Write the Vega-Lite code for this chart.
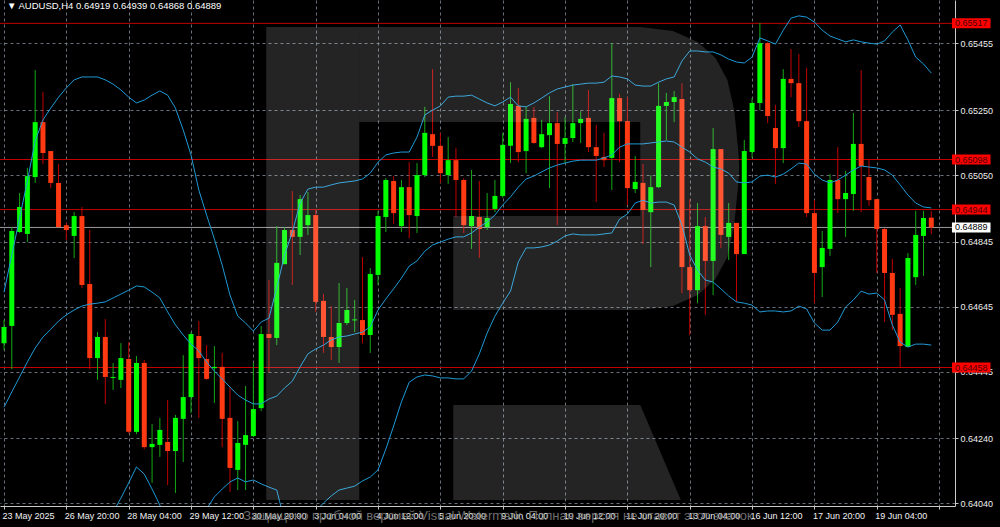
{
"$schema": "https://vega.github.io/schema/vega-lite/v6.json",
"width": 955,
"height": 506,
"autosize": {"type": "none"},
"padding": {"left": 0, "top": 0, "right": 45, "bottom": 21},
"background": "#000000",
"config": {"view": {"stroke": null}, "font": "Liberation Sans"},
"datasets": {
"bars": [
{"i":0,"o":0.64533,"h":0.64604,"l":0.64512,"c":0.64583,"u":0.64690,"m":0.64336,"b":0.63983},
{"i":1,"o":0.64586,"h":0.64890,"l":0.64453,"c":0.64878,"u":0.64804,"m":0.64383,"b":0.63961},
{"i":2,"o":0.64875,"h":0.64995,"l":0.64872,"c":0.64952,"u":0.64918,"m":0.64429,"b":0.63940},
{"i":3,"o":0.64869,"h":0.65072,"l":0.64844,"c":0.65047,"u":0.65032,"m":0.64475,"b":0.63918},
{"i":4,"o":0.65044,"h":0.65373,"l":0.65026,"c":0.65213,"u":0.65155,"m":0.64518,"b":0.63881},
{"i":5,"o":0.65213,"h":0.65306,"l":0.65084,"c":0.65118,"u":0.65220,"m":0.64552,"b":0.63884},
{"i":6,"o":0.65124,"h":0.65124,"l":0.65010,"c":0.65026,"u":0.65256,"m":0.64576,"b":0.63896},
{"i":7,"o":0.65026,"h":0.65084,"l":0.64890,"c":0.64890,"u":0.65290,"m":0.64601,"b":0.63912},
{"i":8,"o":0.64896,"h":0.64903,"l":0.64850,"c":0.64881,"u":0.65318,"m":0.64620,"b":0.63921},
{"i":9,"o":0.64863,"h":0.64936,"l":0.64795,"c":0.64924,"u":0.65343,"m":0.64635,"b":0.63927},
{"i":10,"o":0.64924,"h":0.64952,"l":0.64703,"c":0.64712,"u":0.65352,"m":0.64647,"b":0.63943},
{"i":11,"o":0.64715,"h":0.64881,"l":0.64453,"c":0.64487,"u":0.65352,"m":0.64653,"b":0.63955},
{"i":12,"o":0.64487,"h":0.64567,"l":0.64420,"c":0.64552,"u":0.65352,"m":0.64656,"b":0.63961},
{"i":13,"o":0.64552,"h":0.64607,"l":0.64346,"c":0.64429,"u":0.65343,"m":0.64660,"b":0.63976},
{"i":14,"o":0.64426,"h":0.64472,"l":0.64389,"c":0.64429,"u":0.65330,"m":0.64672,"b":0.64013},
{"i":15,"o":0.64420,"h":0.64533,"l":0.64395,"c":0.64487,"u":0.65312,"m":0.64684,"b":0.64056},
{"i":16,"o":0.64484,"h":0.64536,"l":0.64256,"c":0.64260,"u":0.65290,"m":0.64696,"b":0.64103},
{"i":17,"o":0.64260,"h":0.64493,"l":0.64253,"c":0.64472,"u":0.65272,"m":0.64709,"b":0.64152},
{"i":18,"o":0.64472,"h":0.64481,"l":0.64207,"c":0.64213,"u":0.65281,"m":0.64706,"b":0.64130},
{"i":19,"o":0.64213,"h":0.64284,"l":0.64103,"c":0.64223,"u":0.65296,"m":0.64690,"b":0.64084},
{"i":20,"o":0.64220,"h":0.64303,"l":0.64183,"c":0.64266,"u":0.65309,"m":0.64672,"b":0.64035},
{"i":21,"o":0.64229,"h":0.64358,"l":0.64096,"c":0.64201,"u":0.65296,"m":0.64629,"b":0.63961},
{"i":22,"o":0.64201,"h":0.64312,"l":0.64072,"c":0.64303,"u":0.65256,"m":0.64589,"b":0.63921},
{"i":23,"o":0.64300,"h":0.64496,"l":0.64167,"c":0.64367,"u":0.65189,"m":0.64558,"b":0.63927},
{"i":24,"o":0.64367,"h":0.64567,"l":0.64318,"c":0.64561,"u":0.65112,"m":0.64530,"b":0.63949},
{"i":25,"o":0.64555,"h":0.64601,"l":0.64303,"c":0.64487,"u":0.65004,"m":0.64509,"b":0.64013},
{"i":26,"o":0.64484,"h":0.64527,"l":0.64420,"c":0.64423,"u":0.64927,"m":0.64475,"b":0.64023},
{"i":27,"o":0.64456,"h":0.64524,"l":0.64349,"c":0.64460,"u":0.64853,"m":0.64447,"b":0.64060},
{"i":28,"o":0.64460,"h":0.64503,"l":0.64213,"c":0.64300,"u":0.64773,"m":0.64423,"b":0.64084},
{"i":29,"o":0.64303,"h":0.64398,"l":0.64075,"c":0.64149,"u":0.64681,"m":0.64398,"b":0.64106},
{"i":30,"o":0.64143,"h":0.64293,"l":0.64081,"c":0.64226,"u":0.64616,"m":0.64373,"b":0.64118},
{"i":31,"o":0.64220,"h":0.64401,"l":0.64081,"c":0.64250,"u":0.64595,"m":0.64358,"b":0.64106},
{"i":32,"o":0.64247,"h":0.64472,"l":0.64244,"c":0.64330,"u":0.64570,"m":0.64346,"b":0.64112},
{"i":33,"o":0.64333,"h":0.64586,"l":0.64324,"c":0.64561,"u":0.64598,"m":0.64346,"b":0.64100},
{"i":34,"o":0.64561,"h":0.64727,"l":0.64444,"c":0.64549,"u":0.64610,"m":0.64361,"b":0.64090},
{"i":35,"o":0.64549,"h":0.64893,"l":0.64527,"c":0.64780,"u":0.64703,"m":0.64370,"b":0.64081},
{"i":36,"o":0.64776,"h":0.64890,"l":0.64776,"c":0.64881,"u":0.64804,"m":0.64395,"b":0.63986},
{"i":37,"o":0.64881,"h":0.65001,"l":0.64712,"c":0.64860,"u":0.64875,"m":0.64416,"b":0.63958},
{"i":38,"o":0.64860,"h":0.64989,"l":0.64804,"c":0.64976,"u":0.64964,"m":0.64460,"b":0.63955},
{"i":39,"o":0.64896,"h":0.64998,"l":0.64866,"c":0.64927,"u":0.65007,"m":0.64500,"b":0.63992},
{"i":40,"o":0.64927,"h":0.64946,"l":0.64629,"c":0.64660,"u":0.65013,"m":0.64515,"b":0.64016},
{"i":41,"o":0.64663,"h":0.64684,"l":0.64503,"c":0.64552,"u":0.65013,"m":0.64527,"b":0.64041},
{"i":42,"o":0.64552,"h":0.64647,"l":0.64481,"c":0.64521,"u":0.65020,"m":0.64543,"b":0.64063},
{"i":43,"o":0.64521,"h":0.64718,"l":0.64472,"c":0.64595,"u":0.65026,"m":0.64552,"b":0.64081},
{"i":44,"o":0.64595,"h":0.64703,"l":0.64589,"c":0.64635,"u":0.65029,"m":0.64555,"b":0.64087},
{"i":45,"o":0.64603,"h":0.64666,"l":0.64567,"c":0.64606,"u":0.65032,"m":0.64561,"b":0.64093},
{"i":46,"o":0.64604,"h":0.64798,"l":0.64533,"c":0.64558,"u":0.65038,"m":0.64567,"b":0.64109},
{"i":47,"o":0.64558,"h":0.64764,"l":0.64503,"c":0.64746,"u":0.65056,"m":0.64583,"b":0.64121},
{"i":48,"o":0.64743,"h":0.64940,"l":0.64712,"c":0.64924,"u":0.65090,"m":0.64635,"b":0.64143},
{"i":49,"o":0.64921,"h":0.65041,"l":0.64875,"c":0.65035,"u":0.65112,"m":0.64669,"b":0.64207},
{"i":50,"o":0.65032,"h":0.65047,"l":0.64900,"c":0.64933,"u":0.65118,"m":0.64700,"b":0.64278},
{"i":51,"o":0.64893,"h":0.65035,"l":0.64875,"c":0.65013,"u":0.65121,"m":0.64733,"b":0.64352},
{"i":52,"o":0.65013,"h":0.65090,"l":0.64856,"c":0.64927,"u":0.65121,"m":0.64770,"b":0.64413},
{"i":53,"o":0.64924,"h":0.65087,"l":0.64872,"c":0.65050,"u":0.65167,"m":0.64786,"b":0.64429},
{"i":54,"o":0.65050,"h":0.65260,"l":0.65044,"c":0.65180,"u":0.65235,"m":0.64816,"b":0.64435},
{"i":55,"o":0.65176,"h":0.65376,"l":0.65106,"c":0.65140,"u":0.65250,"m":0.64835,"b":0.64432},
{"i":56,"o":0.65140,"h":0.65180,"l":0.65026,"c":0.65056,"u":0.65263,"m":0.64844,"b":0.64426},
{"i":57,"o":0.65050,"h":0.65167,"l":0.65023,"c":0.65096,"u":0.65290,"m":0.64853,"b":0.64426},
{"i":58,"o":0.65096,"h":0.65133,"l":0.64921,"c":0.65035,"u":0.65293,"m":0.64860,"b":0.64423},
{"i":59,"o":0.65035,"h":0.65041,"l":0.64872,"c":0.64896,"u":0.65293,"m":0.64860,"b":0.64423},
{"i":60,"o":0.64893,"h":0.65066,"l":0.64823,"c":0.64924,"u":0.65296,"m":0.64872,"b":0.64447},
{"i":61,"o":0.64921,"h":0.65032,"l":0.64795,"c":0.64884,"u":0.65284,"m":0.64890,"b":0.64500},
{"i":62,"o":0.64890,"h":0.64995,"l":0.64881,"c":0.64918,"u":0.65272,"m":0.64906,"b":0.64564},
{"i":63,"o":0.64946,"h":0.65035,"l":0.64936,"c":0.64986,"u":0.65263,"m":0.64927,"b":0.64616},
{"i":64,"o":0.64986,"h":0.65180,"l":0.64980,"c":0.65143,"u":0.65275,"m":0.64958,"b":0.64656},
{"i":65,"o":0.65140,"h":0.65336,"l":0.65087,"c":0.65269,"u":0.65290,"m":0.64983,"b":0.64693},
{"i":66,"o":0.65263,"h":0.65318,"l":0.65090,"c":0.65121,"u":0.65263,"m":0.65013,"b":0.64783},
{"i":67,"o":0.65124,"h":0.65260,"l":0.65056,"c":0.65223,"u":0.65260,"m":0.65038,"b":0.64826},
{"i":68,"o":0.65226,"h":0.65260,"l":0.65146,"c":0.65149,"u":0.65272,"m":0.65047,"b":0.64826},
{"i":69,"o":0.65136,"h":0.65220,"l":0.65133,"c":0.65176,"u":0.65287,"m":0.65060,"b":0.64829},
{"i":70,"o":0.65173,"h":0.65293,"l":0.65010,"c":0.65210,"u":0.65303,"m":0.65072,"b":0.64835},
{"i":71,"o":0.65210,"h":0.65244,"l":0.64896,"c":0.65146,"u":0.65315,"m":0.65081,"b":0.64847},
{"i":72,"o":0.65146,"h":0.65229,"l":0.65087,"c":0.65164,"u":0.65321,"m":0.65087,"b":0.64863},
{"i":73,"o":0.65164,"h":0.65330,"l":0.65152,"c":0.65210,"u":0.65327,"m":0.65093,"b":0.64869},
{"i":74,"o":0.65210,"h":0.65247,"l":0.65149,"c":0.65223,"u":0.65330,"m":0.65096,"b":0.64866},
{"i":75,"o":0.65226,"h":0.65312,"l":0.65121,"c":0.65136,"u":0.65333,"m":0.65096,"b":0.64866},
{"i":76,"o":0.65136,"h":0.65204,"l":0.64967,"c":0.65109,"u":0.65333,"m":0.65096,"b":0.64866},
{"i":77,"o":0.65106,"h":0.65180,"l":0.65075,"c":0.65096,"u":0.65336,"m":0.65103,"b":0.64869},
{"i":78,"o":0.65103,"h":0.65456,"l":0.65004,"c":0.65287,"u":0.65355,"m":0.65112,"b":0.64872},
{"i":79,"o":0.65287,"h":0.65300,"l":0.65090,"c":0.65216,"u":0.65352,"m":0.65136,"b":0.64915},
{"i":80,"o":0.65216,"h":0.65290,"l":0.64958,"c":0.65010,"u":0.65346,"m":0.65146,"b":0.64930},
{"i":81,"o":0.65007,"h":0.65109,"l":0.64995,"c":0.65029,"u":0.65327,"m":0.65146,"b":0.64964},
{"i":82,"o":0.65026,"h":0.65084,"l":0.64838,"c":0.64943,"u":0.65324,"m":0.65146,"b":0.64973},
{"i":83,"o":0.64936,"h":0.65050,"l":0.64767,"c":0.65013,"u":0.65324,"m":0.65149,"b":0.64964},
{"i":84,"o":0.65013,"h":0.65333,"l":0.65010,"c":0.65263,"u":0.65336,"m":0.65152,"b":0.64967},
{"i":85,"o":0.65263,"h":0.65303,"l":0.65158,"c":0.65275,"u":0.65346,"m":0.65155,"b":0.64967},
{"i":86,"o":0.65275,"h":0.65309,"l":0.65213,"c":0.65290,"u":0.65352,"m":0.65152,"b":0.64958},
{"i":87,"o":0.65284,"h":0.65333,"l":0.64687,"c":0.64767,"u":0.65401,"m":0.65136,"b":0.64896},
{"i":88,"o":0.64767,"h":0.64976,"l":0.64558,"c":0.64696,"u":0.65432,"m":0.65121,"b":0.64804},
{"i":89,"o":0.64696,"h":0.64964,"l":0.64656,"c":0.64893,"u":0.65432,"m":0.65100,"b":0.64758},
{"i":90,"o":0.64893,"h":0.64921,"l":0.64620,"c":0.64786,"u":0.65429,"m":0.65090,"b":0.64727},
{"i":91,"o":0.64786,"h":0.65195,"l":0.64681,"c":0.65130,"u":0.65429,"m":0.65075,"b":0.64721},
{"i":92,"o":0.65130,"h":0.65130,"l":0.64826,"c":0.64866,"u":0.65420,"m":0.65069,"b":0.64700},
{"i":93,"o":0.64860,"h":0.64964,"l":0.64789,"c":0.64903,"u":0.65407,"m":0.65056,"b":0.64678},
{"i":94,"o":0.64903,"h":0.64903,"l":0.64660,"c":0.64807,"u":0.65398,"m":0.65029,"b":0.64660},
{"i":95,"o":0.64807,"h":0.65158,"l":0.64807,"c":0.65124,"u":0.65395,"m":0.65026,"b":0.64656},
{"i":96,"o":0.65121,"h":0.65287,"l":0.65103,"c":0.65272,"u":0.65413,"m":0.65029,"b":0.64650},
{"i":97,"o":0.65272,"h":0.65518,"l":0.65250,"c":0.65456,"u":0.65472,"m":0.65047,"b":0.64629},
{"i":98,"o":0.65456,"h":0.65460,"l":0.65210,"c":0.65232,"u":0.65463,"m":0.65050,"b":0.64632},
{"i":99,"o":0.65195,"h":0.65266,"l":0.65023,"c":0.65133,"u":0.65453,"m":0.65044,"b":0.64632},
{"i":100,"o":0.65133,"h":0.65376,"l":0.65087,"c":0.65346,"u":0.65496,"m":0.65053,"b":0.64629},
{"i":101,"o":0.65346,"h":0.65438,"l":0.65290,"c":0.65333,"u":0.65533,"m":0.65069,"b":0.64632},
{"i":102,"o":0.65333,"h":0.65423,"l":0.65198,"c":0.65216,"u":0.65540,"m":0.65087,"b":0.64647},
{"i":103,"o":0.65216,"h":0.65380,"l":0.64921,"c":0.64933,"u":0.65536,"m":0.65084,"b":0.64638},
{"i":104,"o":0.64933,"h":0.64973,"l":0.64656,"c":0.64749,"u":0.65521,"m":0.65053,"b":0.64595},
{"i":105,"o":0.64767,"h":0.64878,"l":0.64675,"c":0.64826,"u":0.65496,"m":0.65035,"b":0.64573},
{"i":106,"o":0.64823,"h":0.65053,"l":0.64801,"c":0.65035,"u":0.65478,"m":0.65026,"b":0.64573},
{"i":107,"o":0.65035,"h":0.65136,"l":0.64933,"c":0.64976,"u":0.65469,"m":0.65035,"b":0.64598},
{"i":108,"o":0.64976,"h":0.65063,"l":0.64860,"c":0.64995,"u":0.65460,"m":0.65050,"b":0.64644},
{"i":109,"o":0.64992,"h":0.65241,"l":0.64940,"c":0.65146,"u":0.65466,"m":0.65066,"b":0.64666},
{"i":110,"o":0.65146,"h":0.65373,"l":0.64936,"c":0.65078,"u":0.65460,"m":0.65078,"b":0.64693},
{"i":111,"o":0.65044,"h":0.65096,"l":0.64955,"c":0.64973,"u":0.65456,"m":0.65075,"b":0.64684},
{"i":112,"o":0.64976,"h":0.64976,"l":0.64749,"c":0.64884,"u":0.65453,"m":0.65072,"b":0.64687},
{"i":113,"o":0.64884,"h":0.64887,"l":0.64598,"c":0.64749,"u":0.65463,"m":0.65066,"b":0.64666},
{"i":114,"o":0.64749,"h":0.64792,"l":0.64573,"c":0.64620,"u":0.65490,"m":0.65050,"b":0.64589},
{"i":115,"o":0.64623,"h":0.64703,"l":0.64460,"c":0.64524,"u":0.65512,"m":0.65020,"b":0.64536},
{"i":116,"o":0.64521,"h":0.64810,"l":0.64521,"c":0.64795,"u":0.65466,"m":0.64989,"b":0.64521},
{"i":117,"o":0.64736,"h":0.64940,"l":0.64712,"c":0.64866,"u":0.65413,"m":0.64964,"b":0.64530},
{"i":118,"o":0.64863,"h":0.64940,"l":0.64740,"c":0.64918,"u":0.65392,"m":0.64952,"b":0.64530},
{"i":119,"o":0.64919,"h":0.64939,"l":0.64868,"c":0.64889,"u":0.65364,"m":0.64949,"b":0.64527}
],
"levels": [
{"price": 0.65517, "kind": "level"},
{"price": 0.65098, "kind": "level"},
{"price": 0.64944, "kind": "level"},
{"price": 0.64458, "kind": "level"},
{"price": 0.64889, "kind": "bid"}
],
"logo": [
{"piece": "stem", "wx": 33.65, "wt": 0.655057, "wb": 0.640503},
{"piece": "stem", "wx": 45.59, "wt": 0.655057, "wb": 0.640503},
{"piece": "top", "wx": 45.59, "wt": 0.655057, "wb": 0.652134},
{"piece": "top", "wx": 81.65, "wt": 0.655057, "wb": 0.652134},
{"piece": "bowlbottom", "wx": 57.65, "wt": 0.649242, "wb": 0.64635},
{"piece": "bowlbottom", "wx": 81.65, "wt": 0.649242, "wb": 0.64635},
{"piece": "bowl", "wx": 81.65, "wt": 0.655057, "wb": 0.64635},
{"piece": "bowl", "wx": 85.84, "wt": 0.654934, "wb": 0.646473},
{"piece": "bowl", "wx": 89.02, "wt": 0.654596, "wb": 0.646811},
{"piece": "bowl", "wx": 91.30, "wt": 0.654103, "wb": 0.647304},
{"piece": "bowl", "wx": 92.83, "wt": 0.653427, "wb": 0.64798},
{"piece": "bowl", "wx": 93.71, "wt": 0.652503, "wb": 0.648965},
{"piece": "bowl", "wx": 94.22, "wt": 0.651273, "wb": 0.650196},
{"piece": "bowl", "wx": 94.35, "wt": 0.65075, "wb": 0.650719},
{"piece": "leg", "wx": 57.65, "wt": 0.643426, "wb": 0.640503},
{"piece": "leg", "wx": 81.65, "wt": 0.643426, "wb": 0.640503},
{"piece": "leg", "wx": 86.86, "wt": 0.640503, "wb": 0.640503}
]
},
"layer": [
{
"data": {"name": "levels"},
"mark": {"type": "rule", "strokeWidth": 1},
"encoding": {
"y": {"field": "price", "type": "quantitative",
"scale": {"domain": [0.640319, 0.655888], "nice": false, "zero": false},
"axis": {"orient": "right", "title": null,
"values": [0.6404, 0.6414, 0.6424, 0.64345, 0.64445, 0.64545, 0.64645, 0.64745, 0.64845, 0.64945, 0.6505, 0.6515, 0.6525, 0.6535, 0.65455, 0.65555],
"format": ".5f", "grid": true, "gridColor": "#7a8590", "gridDash": [3, 3], "gridOpacity": 0.85,
"domain": true, "domainColor": "#c8c8c8", "ticks": true, "tickColor": "#c8c8c8", "tickSize": 3,
"labelColor": "#eeeeee", "labelFont": "Liberation Sans", "labelFontSize": 9, "labelAlign": "left", "labelBaseline": "middle",
"labelPadding": 2, "labelOverlap": false, "labelBound": false, "labelFlush": false}},
"color": {"condition": {"test": "datum.kind === 'bid'", "value": "#9c9c9c"}, "value": "#c40000"}
}
},
{
"data": {"name": "bars"},
"mark": {"type": "rule", "strokeWidth": 1},
"encoding": {
"x": {"field": "i", "type": "quantitative",
"scale": {"domain": [0.127, 121.4], "nice": false, "zero": false},
"axis": {"orient": "bottom", "title": null,
"values": [0,4,8,12,16,20,24,28,32,36,40,44,48,52,56,60,64,68,72,76,80,84,88,92,96,100,104,108,112,116,120],
"labelExpr": "(datum.value % 8 === 0 && datum.value < 120) ? ['23 May 2025','26 May 20:00','28 May 04:00','29 May 12:00','30 May 20:00','3 Jun 04:00','4 Jun 12:00','5 Jun 20:00','9 Jun 04:00','10 Jun 12:00','11 Jun 20:00','13 Jun 04:00','16 Jun 12:00','17 Jun 20:00','19 Jun 04:00'][datum.value / 8] : ''",
"grid": true, "gridColor": "#7a8590", "gridDash": [3, 3], "gridOpacity": 0.85,
"domain": true, "domainColor": "#c8c8c8", "ticks": true, "tickColor": "#c8c8c8", "tickSize": 3,
"tickOpacity": {"condition": {"test": "datum.value % 8 === 0", "value": 1}, "value": 0},
"labelColor": "#f2f2f2", "labelFont": "Liberation Sans", "labelFontSize": 9, "labelAlign": "left", "labelBaseline": "top",
"labelPadding": 2, "labelOffset": -2, "labelFlush": false, "labelOverlap": false, "labelBound": false}},
"y": {"field": "l", "type": "quantitative"},
"y2": {"field": "h"},
"color": {"condition": {"test": "datum.c < datum.o", "value": "#c00000"}, "value": "#14a814"}
}
},
{
"data": {"name": "bars"},
"mark": {"type": "bar", "orient": "vertical", "width": 5},
"encoding": {
"x": {"field": "i", "type": "quantitative"},
"y": {"field": "o", "type": "quantitative"},
"y2": {"field": "c"},
"color": {"condition": {"test": "datum.c < datum.o", "value": "#ff3a12"}, "value": "#00ff00"}
}
},
{
"data": {"name": "bars"},
"mark": {"type": "line", "color": "#1e9ad6", "strokeWidth": 1, "clip": true},
"encoding": {
"x": {"field": "i", "type": "quantitative"},
"y": {"field": "u", "type": "quantitative"}
}
},
{
"data": {"name": "bars"},
"mark": {"type": "line", "color": "#1e9ad6", "strokeWidth": 1, "clip": true},
"encoding": {
"x": {"field": "i", "type": "quantitative"},
"y": {"field": "m", "type": "quantitative"}
}
},
{
"data": {"name": "bars"},
"mark": {"type": "line", "color": "#1e9ad6", "strokeWidth": 1, "clip": true},
"encoding": {
"x": {"field": "i", "type": "quantitative"},
"y": {"field": "b", "type": "quantitative"}
}
},
{
"data": {"name": "levels"},
"mark": {"type": "rect", "yOffset": -5, "y2Offset": 5},
"encoding": {
"x": {"datum": 121.65, "type": "quantitative"},
"x2": {"datum": 126.6},
"y": {"field": "price", "type": "quantitative"},
"y2": {"field": "price"},
"color": {"condition": {"test": "datum.kind === 'bid'", "value": "#ffffff"}, "value": "#ff0000"}
}
},
{
"data": {"name": "levels"},
"mark": {"type": "text", "align": "left", "baseline": "middle", "dx": 3, "font": "Liberation Sans", "fontSize": 9},
"encoding": {
"x": {"datum": 121.65, "type": "quantitative"},
"y": {"field": "price", "type": "quantitative"},
"text": {"field": "price", "format": ".5f"},
"color": {"condition": {"test": "datum.kind === 'bid'", "value": "#000000"}, "value": "#4a0000"}
}
},
{
"data": {"values": [{"label": "▼ AUDUSD,H4  0.64919 0.64939 0.64868 0.64889"}]},
"mark": {"type": "text", "align": "left", "baseline": "middle", "font": "Liberation Sans", "fontSize": 9.5, "color": "#ffffff"},
"encoding": {
"x": {"datum": 0.38, "type": "quantitative"},
"y": {"datum": 0.655703, "type": "quantitative"},
"text": {"field": "label"}
}
},
{
"data": {"name": "logo"},
"mark": {"type": "area", "color": "#ffffff", "opacity": 0.14, "orient": "vertical", "interpolate": "linear"},
"encoding": {
"x": {"field": "wx", "type": "quantitative"},
"y": {"field": "wt", "type": "quantitative"},
"y2": {"field": "wb"},
"detail": {"field": "piece"}
}
},
{
"data": {"values": [{"label": "Защищено пробной версией Visual Watermark. Полная версия не ставит этот значок."}]},
"mark": {"type": "text", "align": "center", "baseline": "middle", "font": "Liberation Sans", "fontSize": 13, "color": "#808080", "opacity": 0.85},
"encoding": {
"x": {"datum": 63.62, "type": "quantitative"},
"y": {"datum": 0.640011, "type": "quantitative"},
"text": {"field": "label"}
}
}
]
}
